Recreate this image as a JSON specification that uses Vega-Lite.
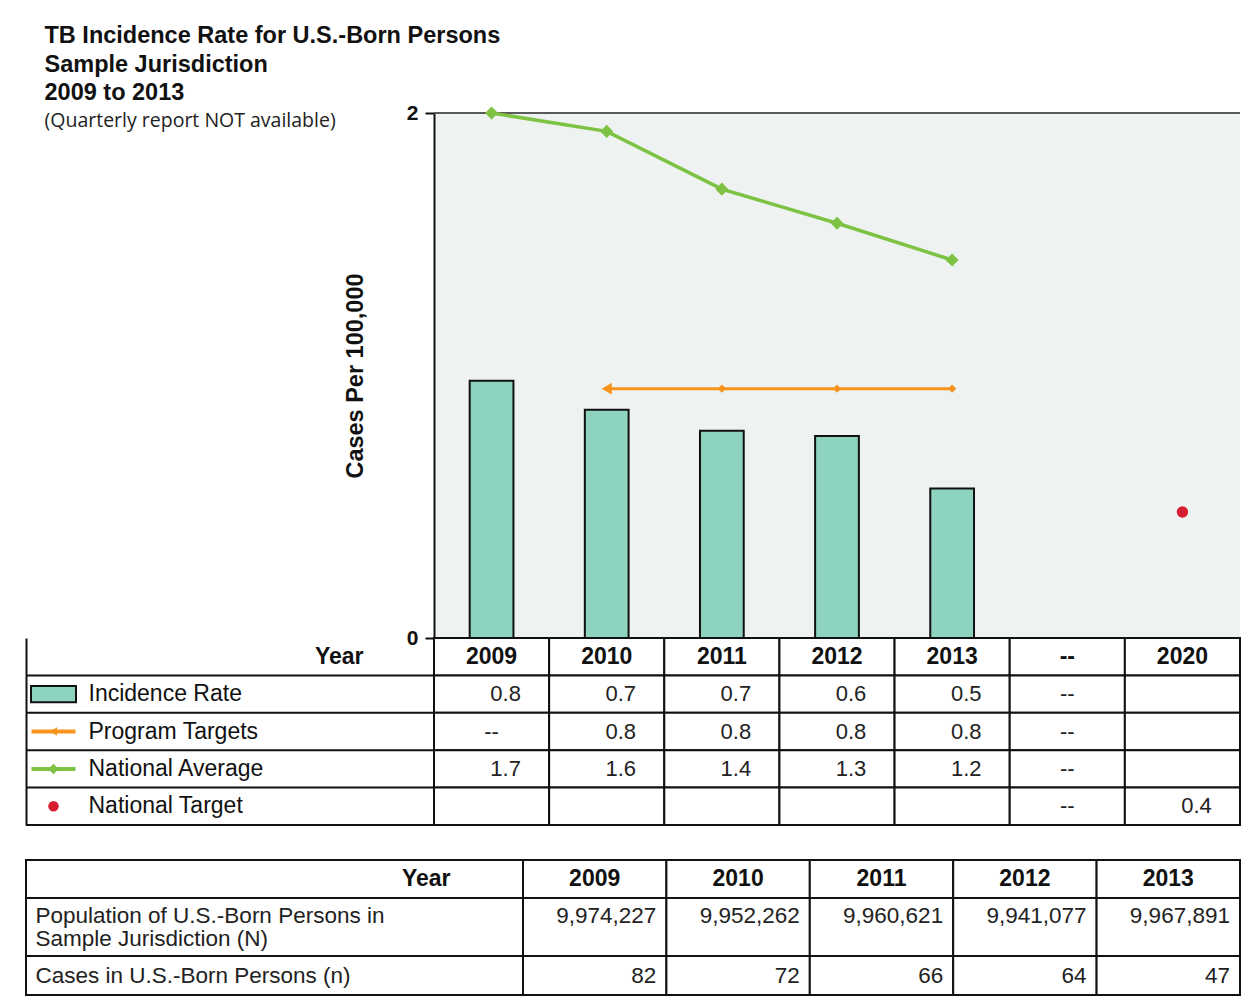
{
  "$schema": "https://vega.github.io/schema/vega-lite/v6.json",
  "background": "white",
  "padding": {"left": 23, "top": 24, "right": 8, "bottom": 6},
  "config": {
    "view": {"stroke": null},
    "font": "Liberation Sans",
    "axis": {"labelColor": "#111", "titleColor": "#111", "labelLimit": 700}
  },
  "title": {
    "text": ["TB Incidence Rate for U.S.-Born Persons", "Sample Jurisdiction", "2009 to 2013"],
    "subtitle": "(Quarterly report NOT available)",
    "anchor": "start",
    "frame": "bounds",
    "orient": "top",
    "offset": -28,
    "dx": 21,
    "font": "Liberation Sans",
    "fontSize": 23.5,
    "fontWeight": "bold",
    "lineHeight": 28.5,
    "color": "#111",
    "subtitleFont": "Open Sans",
    "subtitleFontSize": 19.5,
    "subtitleColor": "#222",
    "subtitlePadding": 7
  },
  "datasets": {
    "plot": [
      {"year": "2009", "series": "Incidence Rate", "value": 0.98},
      {"year": "2010", "series": "Incidence Rate", "value": 0.87},
      {"year": "2011", "series": "Incidence Rate", "value": 0.79},
      {"year": "2012", "series": "Incidence Rate", "value": 0.77},
      {"year": "2013", "series": "Incidence Rate", "value": 0.57},
      {"year": "2010", "series": "Program Targets", "value": 0.95},
      {"year": "2011", "series": "Program Targets", "value": 0.95},
      {"year": "2012", "series": "Program Targets", "value": 0.95},
      {"year": "2013", "series": "Program Targets", "value": 0.95},
      {"year": "2009", "series": "National Average", "value": 2.0},
      {"year": "2010", "series": "National Average", "value": 1.93},
      {"year": "2011", "series": "National Average", "value": 1.71},
      {"year": "2012", "series": "National Average", "value": 1.58},
      {"year": "2013", "series": "National Average", "value": 1.44},
      {"year": "2020", "series": "National Target", "value": 0.48}
    ],
    "legendRows": [
      {"row": "Year"},
      {"row": "Incidence Rate"},
      {"row": "Program Targets"},
      {"row": "National Average"},
      {"row": "National Target"}
    ],
    "legendCells": [
      {"row": "Year", "year": "2009", "text": "2009"},
      {"row": "Year", "year": "2010", "text": "2010"},
      {"row": "Year", "year": "2011", "text": "2011"},
      {"row": "Year", "year": "2012", "text": "2012"},
      {"row": "Year", "year": "2013", "text": "2013"},
      {"row": "Year", "year": "--", "text": "--"},
      {"row": "Year", "year": "2020", "text": "2020"},
      {"row": "Incidence Rate", "year": "2009", "text": "0.8"},
      {"row": "Incidence Rate", "year": "2010", "text": "0.7"},
      {"row": "Incidence Rate", "year": "2011", "text": "0.7"},
      {"row": "Incidence Rate", "year": "2012", "text": "0.6"},
      {"row": "Incidence Rate", "year": "2013", "text": "0.5"},
      {"row": "Incidence Rate", "year": "--", "text": "--"},
      {"row": "Incidence Rate", "year": "2020", "text": ""},
      {"row": "Program Targets", "year": "2009", "text": "--"},
      {"row": "Program Targets", "year": "2010", "text": "0.8"},
      {"row": "Program Targets", "year": "2011", "text": "0.8"},
      {"row": "Program Targets", "year": "2012", "text": "0.8"},
      {"row": "Program Targets", "year": "2013", "text": "0.8"},
      {"row": "Program Targets", "year": "--", "text": "--"},
      {"row": "Program Targets", "year": "2020", "text": ""},
      {"row": "National Average", "year": "2009", "text": "1.7"},
      {"row": "National Average", "year": "2010", "text": "1.6"},
      {"row": "National Average", "year": "2011", "text": "1.4"},
      {"row": "National Average", "year": "2012", "text": "1.3"},
      {"row": "National Average", "year": "2013", "text": "1.2"},
      {"row": "National Average", "year": "--", "text": "--"},
      {"row": "National Average", "year": "2020", "text": ""},
      {"row": "National Target", "year": "2009", "text": ""},
      {"row": "National Target", "year": "2010", "text": ""},
      {"row": "National Target", "year": "2011", "text": ""},
      {"row": "National Target", "year": "2012", "text": ""},
      {"row": "National Target", "year": "2013", "text": ""},
      {"row": "National Target", "year": "--", "text": "--"},
      {"row": "National Target", "year": "2020", "text": "0.4"}
    ],
    "popRows": [
      {"row": "Year", "label": "Year"},
      {"row": "Population", "label": "Population of U.S.-Born Persons in|Sample Jurisdiction (N)"},
      {"row": "Cases", "label": "Cases in U.S.-Born Persons (n)"}
    ],
    "popCells": [
      {"row": "Year", "year": "2009", "text": "2009"},
      {"row": "Year", "year": "2010", "text": "2010"},
      {"row": "Year", "year": "2011", "text": "2011"},
      {"row": "Year", "year": "2012", "text": "2012"},
      {"row": "Year", "year": "2013", "text": "2013"},
      {"row": "Population", "year": "2009", "text": "9,974,227"},
      {"row": "Population", "year": "2010", "text": "9,952,262"},
      {"row": "Population", "year": "2011", "text": "9,960,621"},
      {"row": "Population", "year": "2012", "text": "9,941,077"},
      {"row": "Population", "year": "2013", "text": "9,967,891"},
      {"row": "Cases", "year": "2009", "text": "82"},
      {"row": "Cases", "year": "2010", "text": "72"},
      {"row": "Cases", "year": "2011", "text": "66"},
      {"row": "Cases", "year": "2012", "text": "64"},
      {"row": "Cases", "year": "2013", "text": "47"}
    ]
  },
  "vconcat": [
    {
      "columns": 2,
      "spacing": 0,
      "bounds": "flush",
      "concat": [
        {
          "width": 408,
          "height": 525,
          "data": {"values": []},
          "mark": {"type": "point", "opacity": 0}
        },
        {
          "width": 806,
          "height": 525,
          "view": {"fill": "#eef3f2", "stroke": null},
          "data": {"name": "plot"},
          "layer": [
            {
              "transform": [{"filter": "datum.series == 'Incidence Rate'"}],
              "mark": {"type": "bar", "fill": "#8dd3c0", "stroke": "#111", "strokeWidth": 2, "width": {"band": 0.38}},
              "encoding": {
                "x": {
                  "field": "year", "type": "nominal", "title": null,
                  "scale": {"type": "band", "domain": ["2009", "2010", "2011", "2012", "2013", "--", "2020"], "paddingInner": 0, "paddingOuter": 0},
                  "axis": {"labels": false, "ticks": false, "grid": false, "domain": true, "domainColor": "#111", "domainWidth": 2, "title": null}
                },
                "y": {
                  "field": "value", "type": "quantitative", "title": "Cases Per 100,000",
                  "scale": {"domain": [0, 2], "nice": false},
                  "axis": {
                    "values": [0, 2], "format": "d", "grid": false,
                    "title": "Cases Per 100,000", "titleFontSize": 23.5, "titleFontWeight": "bold", "titlePadding": 39,
                    "labelFontSize": 21, "labelFontWeight": "bold", "labelPadding": 7,
                    "tickSize": 9, "tickWidth": 2, "tickColor": "#111",
                    "domainColor": "#111", "domainWidth": 2
                  }
                }
              }
            },
            {
              "data": {"values": [{}]},
              "mark": {"type": "rule", "color": "#5a5a5a", "strokeWidth": 2},
              "encoding": {"y": {"datum": 2, "type": "quantitative", "title": "Cases Per 100,000"}}
            },
            {
              "transform": [{"filter": "datum.series == 'National Average'"}],
              "mark": {"type": "line", "color": "#7dc242", "strokeWidth": 3.5, "point": {"shape": "diamond", "size": 170, "filled": true, "color": "#7dc242", "opacity": 1}},
              "encoding": {
                "x": {"field": "year", "type": "nominal", "title": null},
                "y": {"field": "value", "type": "quantitative", "title": "Cases Per 100,000"}
              }
            },
            {
              "transform": [{"filter": "datum.series == 'Program Targets'"}],
              "mark": {"type": "line", "color": "#f7941e", "strokeWidth": 3},
              "encoding": {
                "x": {"field": "year", "type": "nominal", "title": null},
                "y": {"field": "value", "type": "quantitative", "title": "Cases Per 100,000"}
              }
            },
            {
              "transform": [{"filter": "datum.series == 'Program Targets' && datum.year == '2010'"}],
              "mark": {"type": "point", "shape": "triangle-left", "size": 140, "filled": true, "color": "#f7941e", "opacity": 1},
              "encoding": {
                "x": {"field": "year", "type": "nominal", "title": null},
                "y": {"field": "value", "type": "quantitative", "title": "Cases Per 100,000"}
              }
            },
            {
              "transform": [{"filter": "datum.series == 'Program Targets' && datum.year != '2010'"}],
              "mark": {"type": "point", "shape": "diamond", "size": 70, "filled": true, "color": "#f7941e", "opacity": 1},
              "encoding": {
                "x": {"field": "year", "type": "nominal", "title": null},
                "y": {"field": "value", "type": "quantitative", "title": "Cases Per 100,000"}
              }
            },
            {
              "transform": [{"filter": "datum.series == 'National Target'"}],
              "mark": {"type": "circle", "size": 130, "color": "#d71e30", "opacity": 1},
              "encoding": {
                "x": {"field": "year", "type": "nominal", "title": null},
                "y": {"field": "value", "type": "quantitative", "title": "Cases Per 100,000"}
              }
            }
          ]
        },
        {
          "hconcat": [
            {
              "width": 55,
              "height": 187,
              "data": {"name": "legendRows"},
              "layer": [
                {
                  "mark": {"type": "rule", "color": "#111", "strokeWidth": 2},
                  "encoding": {
                    "y": {
                      "field": "row", "type": "nominal", "bandPosition": 1,
                      "scale": {"type": "band", "domain": ["Year", "Incidence Rate", "Program Targets", "National Average", "National Target"], "paddingInner": 0, "paddingOuter": 0},
                      "axis": {
                        "orient": "left", "title": null, "ticks": false, "grid": false,
                        "domain": true, "domainColor": "#111", "domainWidth": 2,
                        "labelExpr": "datum.value == 'Year' ? 'Year' : ''",
                        "labelAlign": "right", "labelPadding": -337,
                        "labelFontSize": 23, "labelFontWeight": "bold"
                      }
                    }
                  }
                },
                {
                  "transform": [{"filter": "datum.row == 'Incidence Rate'"}],
                  "mark": {"type": "point", "shape": "M-1,-0.36H1V0.36H-1Z", "size": 2025, "filled": true, "fill": "#8dd3c0", "stroke": "#111", "strokeWidth": 2, "opacity": 1},
                  "encoding": {"y": {"field": "row", "type": "nominal"}}
                },
                {
                  "transform": [{"filter": "datum.row == 'Program Targets'"}],
                  "mark": {"type": "point", "shape": "M-1,0L1,0", "size": 1936, "filled": false, "color": "#f7941e", "strokeWidth": 4, "opacity": 1},
                  "encoding": {"y": {"field": "row", "type": "nominal"}}
                },
                {
                  "transform": [{"filter": "datum.row == 'Program Targets'"}],
                  "mark": {"type": "point", "shape": "triangle-left", "size": 70, "filled": true, "color": "#f7941e", "opacity": 1},
                  "encoding": {"y": {"field": "row", "type": "nominal"}}
                },
                {
                  "transform": [{"filter": "datum.row == 'National Average'"}],
                  "mark": {"type": "point", "shape": "M-1,0L1,0", "size": 1936, "filled": false, "color": "#7dc242", "strokeWidth": 4, "opacity": 1},
                  "encoding": {"y": {"field": "row", "type": "nominal"}}
                },
                {
                  "transform": [{"filter": "datum.row == 'National Average'"}],
                  "mark": {"type": "point", "shape": "diamond", "size": 110, "filled": true, "color": "#7dc242", "opacity": 1},
                  "encoding": {"y": {"field": "row", "type": "nominal"}}
                },
                {
                  "transform": [{"filter": "datum.row == 'National Target'"}],
                  "mark": {"type": "circle", "size": 110, "color": "#d71e30", "opacity": 1},
                  "encoding": {"y": {"field": "row", "type": "nominal"}}
                }
              ]
            },
            {
              "width": 353,
              "height": 187,
              "data": {"name": "legendRows"},
              "mark": {"type": "rule", "color": "#111", "strokeWidth": 2},
              "encoding": {
                "y": {
                  "field": "row", "type": "nominal", "bandPosition": 1,
                  "scale": {"type": "band", "domain": ["Year", "Incidence Rate", "Program Targets", "National Average", "National Target"], "paddingInner": 0, "paddingOuter": 0},
                  "axis": {
                    "orient": "left", "title": null, "ticks": false, "grid": false, "domain": false,
                    "labelExpr": "datum.value == 'Year' ? '' : datum.value",
                    "labelAlign": "left", "labelPadding": -7,
                    "labelFontSize": 23
                  }
                }
              }
            }
          ],
          "spacing": 0,
          "bounds": "flush"
        },
        {
          "width": 806,
          "height": 187,
          "data": {"name": "legendCells"},
          "layer": [
            {
              "mark": {"type": "rect", "fill": "white", "stroke": "#111", "strokeWidth": 2},
              "encoding": {
                "x": {"field": "year", "type": "nominal", "scale": {"type": "band", "domain": ["2009", "2010", "2011", "2012", "2013", "--", "2020"], "paddingInner": 0, "paddingOuter": 0}, "axis": null},
                "y": {"field": "row", "type": "nominal", "scale": {"type": "band", "domain": ["Year", "Incidence Rate", "Program Targets", "National Average", "National Target"], "paddingInner": 0, "paddingOuter": 0}, "axis": null}
              }
            },
            {
              "transform": [{"filter": "datum.row == 'Year'"}],
              "mark": {"type": "text", "fontSize": 23, "fontWeight": "bold", "color": "#111"},
              "encoding": {
                "x": {"field": "year", "type": "nominal", "axis": null},
                "y": {"field": "row", "type": "nominal", "axis": null},
                "text": {"field": "text"}
              }
            },
            {
              "transform": [{"filter": "datum.row != 'Year' && datum.text != '--' && datum.text != ''"}],
              "mark": {"type": "text", "fontSize": 22, "align": "right", "color": "#222"},
              "encoding": {
                "x": {"field": "year", "type": "nominal", "bandPosition": 0.755, "axis": null},
                "y": {"field": "row", "type": "nominal", "axis": null},
                "text": {"field": "text"}
              }
            },
            {
              "transform": [{"filter": "datum.row != 'Year' && datum.text == '--'"}],
              "mark": {"type": "text", "fontSize": 22, "color": "#222"},
              "encoding": {
                "x": {"field": "year", "type": "nominal", "axis": null},
                "y": {"field": "row", "type": "nominal", "axis": null},
                "text": {"field": "text"}
              }
            }
          ]
        }
      ]
    },
    {
      "columns": 2,
      "spacing": 0,
      "bounds": "flush",
      "concat": [
        {
          "width": 497,
          "height": 38,
          "data": {"name": "popRows"},
          "transform": [{"filter": "datum.row == 'Year'"}],
          "mark": {"type": "rect", "fill": "white", "stroke": "#111", "strokeWidth": 2},
          "encoding": {
            "y": {
              "field": "label", "type": "nominal",
              "scale": {"type": "band", "paddingInner": 0, "paddingOuter": 0},
              "axis": {"title": null, "ticks": false, "domain": false, "grid": false, "labelAlign": "right", "labelPadding": -424, "labelFontSize": 23, "labelFontWeight": "bold"}
            }
          }
        },
        {
          "width": 717,
          "height": 38,
          "data": {"name": "popCells"},
          "transform": [{"filter": "datum.row == 'Year'"}],
          "layer": [
            {
              "mark": {"type": "rect", "fill": "white", "stroke": "#111", "strokeWidth": 2},
              "encoding": {
                "x": {"field": "year", "type": "nominal", "scale": {"type": "band", "domain": ["2009", "2010", "2011", "2012", "2013"], "paddingInner": 0, "paddingOuter": 0}, "axis": null},
                "y": {"field": "row", "type": "nominal", "scale": {"type": "band", "paddingInner": 0, "paddingOuter": 0}, "axis": null}
              }
            },
            {
              "mark": {"type": "text", "fontSize": 23, "fontWeight": "bold", "color": "#111"},
              "encoding": {
                "x": {"field": "year", "type": "nominal", "axis": null},
                "y": {"field": "row", "type": "nominal", "axis": null},
                "text": {"field": "text"}
              }
            }
          ]
        },
        {
          "width": 497,
          "height": 58,
          "data": {"name": "popRows"},
          "transform": [{"filter": "datum.row == 'Population'"}],
          "mark": {"type": "rect", "fill": "white", "stroke": "#111", "strokeWidth": 2},
          "encoding": {
            "y": {
              "field": "label", "type": "nominal",
              "scale": {"type": "band", "paddingInner": 0, "paddingOuter": 0},
              "axis": {"title": null, "ticks": false, "domain": false, "grid": false, "labelExpr": "split(datum.value, '|')", "labelAlign": "left", "labelPadding": -9, "labelOffset": -11, "labelFontSize": 22.5, "labelLineHeight": 23, "labelColor": "#222"}
            }
          }
        },
        {
          "width": 717,
          "height": 58,
          "data": {"name": "popCells"},
          "transform": [{"filter": "datum.row == 'Population'"}],
          "layer": [
            {
              "mark": {"type": "rect", "fill": "white", "stroke": "#111", "strokeWidth": 2},
              "encoding": {
                "x": {"field": "year", "type": "nominal", "scale": {"type": "band", "domain": ["2009", "2010", "2011", "2012", "2013"], "paddingInner": 0, "paddingOuter": 0}, "axis": null},
                "y": {"field": "row", "type": "nominal", "scale": {"type": "band", "paddingInner": 0, "paddingOuter": 0}, "axis": null}
              }
            },
            {
              "mark": {"type": "text", "fontSize": 22.5, "align": "right", "color": "#222"},
              "encoding": {
                "x": {"field": "year", "type": "nominal", "bandPosition": 0.93, "axis": null},
                "y": {"field": "row", "type": "nominal", "bandPosition": 0.31, "axis": null},
                "text": {"field": "text"}
              }
            }
          ]
        },
        {
          "width": 497,
          "height": 39,
          "data": {"name": "popRows"},
          "transform": [{"filter": "datum.row == 'Cases'"}],
          "mark": {"type": "rect", "fill": "white", "stroke": "#111", "strokeWidth": 2},
          "encoding": {
            "y": {
              "field": "label", "type": "nominal",
              "scale": {"type": "band", "paddingInner": 0, "paddingOuter": 0},
              "axis": {"title": null, "ticks": false, "domain": false, "grid": false, "labelAlign": "left", "labelPadding": -9, "labelFontSize": 22.5, "labelColor": "#222"}
            }
          }
        },
        {
          "width": 717,
          "height": 39,
          "data": {"name": "popCells"},
          "transform": [{"filter": "datum.row == 'Cases'"}],
          "layer": [
            {
              "mark": {"type": "rect", "fill": "white", "stroke": "#111", "strokeWidth": 2},
              "encoding": {
                "x": {"field": "year", "type": "nominal", "scale": {"type": "band", "domain": ["2009", "2010", "2011", "2012", "2013"], "paddingInner": 0, "paddingOuter": 0}, "axis": null},
                "y": {"field": "row", "type": "nominal", "scale": {"type": "band", "paddingInner": 0, "paddingOuter": 0}, "axis": null}
              }
            },
            {
              "mark": {"type": "text", "fontSize": 22.5, "align": "right", "color": "#222"},
              "encoding": {
                "x": {"field": "year", "type": "nominal", "bandPosition": 0.93, "axis": null},
                "y": {"field": "row", "type": "nominal", "axis": null},
                "text": {"field": "text"}
              }
            }
          ]
        }
      ]
    }
  ],
  "spacing": 33
}
